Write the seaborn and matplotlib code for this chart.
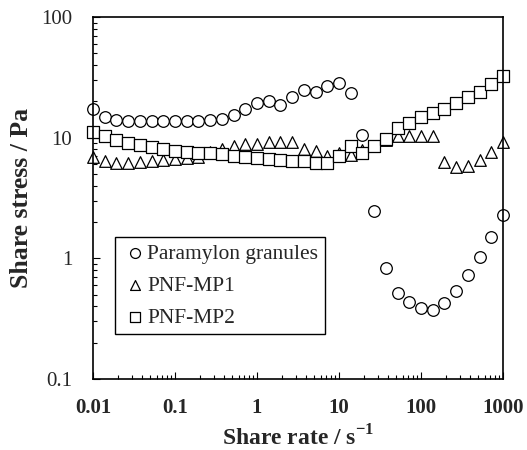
import matplotlib
matplotlib.use("Agg")
import matplotlib.pyplot as plt
import seaborn as sns
import pandas as pd

# Shear rate (s^-1)
shear_rate = [0.01, 0.0139, 0.0193, 0.0268, 0.0373, 0.0518, 0.0720,
              0.1, 0.139, 0.193, 0.268, 0.373, 0.518, 0.720,
              1, 1.39, 1.93, 2.68, 3.73, 5.18, 7.20,
              10, 13.9, 19.3, 26.8, 37.3, 51.8, 72.0,
              100, 139, 193, 268, 373, 518, 720, 1000]

paramylon = [17.3, 14.7, 14.0, 13.8, 13.8, 13.8, 13.8, 13.8, 13.7, 13.8, 14.0, 14.3,
             15.4, 17.4, 19.5, 20.1, 18.7, 21.8, 24.9, 23.9, 26.8, 28.2, 23.6, 10.5,
             2.45, 0.83, 0.52, 0.435, 0.39, 0.373, 0.43, 0.54, 0.73, 1.03, 1.50, 2.30]

pnf_mp1 = [6.87, 6.46, 6.22, 6.2, 6.30, 6.42, 6.50, 6.63, 6.80, 6.97, 7.55, 8.05,
           8.47, 8.85, 8.85, 9.25, 9.25, 9.14, 8.05, 7.70, 7.08, 7.41, 7.2, 7.9,
           8.6, 9.6, 10.3, 10.4, 10.4, 10.3, 6.34, 5.68, 5.82, 6.52, 7.64, 9.2]

pnf_mp2 = [11.2, 10.3, 9.55, 9.08, 8.69, 8.41, 8.05, 7.74, 7.55, 7.41, 7.41, 7.27,
           7.06, 6.95, 6.84, 6.62, 6.52, 6.44, 6.44, 6.18, 6.22, 7.1, 8.5, 7.41,
           8.5, 9.8, 12.0, 13.35, 14.8, 16.1, 17.4, 19.2, 21.7, 24.0, 28.0, 32.6]

series_names = ["Paramylon granules", "PNF-MP1", "PNF-MP2"]
x_ticks = [0.01, 0.1, 1, 10, 100, 1000]
x_ticklabels = ["0.01", "0.1", "1", "10", "100", "1000"]
y_ticks = [0.1, 1, 10, 100]
y_ticklabels = ["0.1", "1", "10", "100"]

sns.set_theme(style="white")
plt.rcParams["font.family"] = ["Liberation Serif", "DejaVu Serif"]
plt.rcParams["mathtext.fontset"] = "custom"
plt.rcParams["mathtext.rm"] = "Liberation Serif"
plt.rcParams["mathtext.bf"] = "Liberation Serif:bold"

fig = plt.figure(figsize=(5.27, 4.5), dpi=100)
ax = fig.add_axes([0.1765, 0.1578, 0.778, 0.8044])

markers = ["o", "^", "s"]
data = [paramylon, pnf_mp1, pnf_mp2]
for name, vals, m in zip(series_names, data, markers):
    df = pd.DataFrame({"rate": shear_rate, "stress": vals})
    sns.scatterplot(data=df, x="rate", y="stress", marker=m, s=70,
                    facecolor="white", edgecolor="black", linewidth=0.9,
                    label=name, ax=ax, clip_on=False)

ax.set_xscale("log")
ax.set_yscale("log")
ax.set_xlim(0.01, 1000)
ax.set_ylim(0.1, 100)
ax.set_xticks(x_ticks)
ax.set_xticklabels(x_ticklabels, fontsize=15, fontweight="bold")
ax.set_yticks(y_ticks)
ax.set_yticklabels(y_ticklabels, fontsize=15)
ax.tick_params(which="both", direction="in", top=False, right=False,
               bottom=True, left=True, color="black")
ax.tick_params(which="major", length=5, width=0.8)
ax.tick_params(which="minor", length=2.8, width=0.8)
ax.tick_params(axis="x", which="major", pad=14)
ax.tick_params(axis="y", which="major", pad=15)

for sp in ax.spines.values():
    sp.set_color("black")
    sp.set_linewidth(1.2)

ax.set_xlabel(r"Share rate / s$^{\mathbf{-1}}$", fontsize=17, fontweight="bold", labelpad=5)
ax.set_ylabel("Share stress / Pa", fontsize=18.5, fontweight="bold", labelpad=6)

leg = ax.legend(loc="upper left", bbox_to_anchor=(0.054, 0.391), borderaxespad=0,
                fontsize=15.5, frameon=True, fancybox=False, framealpha=1,
                edgecolor="black", handletextpad=0.0, handlelength=1.2,
                labelspacing=0.55, borderpad=0.3, markerscale=0.85)
leg.get_frame().set_linewidth(1.0)

fig.savefig("out.png", dpi=100)
